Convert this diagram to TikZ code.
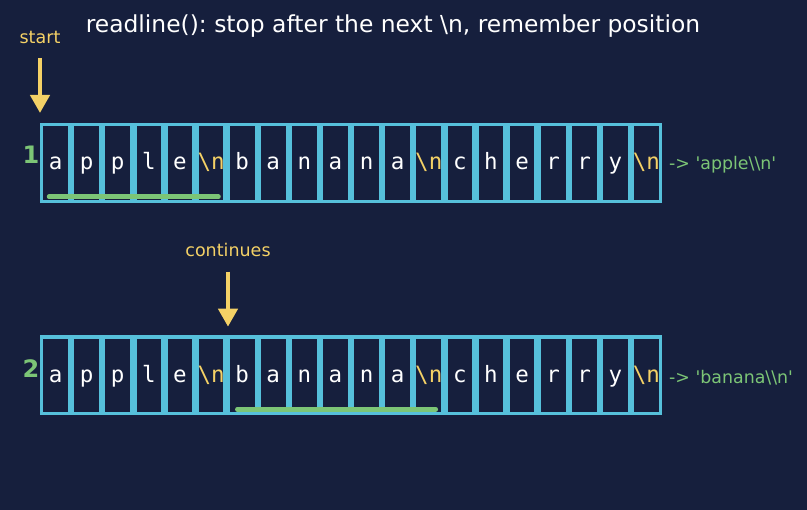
\documentclass[tikz,border=0pt]{standalone}
\usepackage{fontspec}
\setmainfont{DejaVu Sans}
\newfontfamily\monof{DejaVu Sans Mono}
\usetikzlibrary{arrows.meta}
\frenchspacing
\definecolor{bg}{HTML}{161F3D}
\definecolor{cellblue}{HTML}{56C0DB}
\definecolor{ylw}{HTML}{F4D166}
\definecolor{grn}{HTML}{7CC576}
\newcommand\nlx{\textcolor{ylw}{\textbackslash n}}
\tikzset{
  cell/.style={draw=cellblue, fill=bg, line width=3.2pt, minimum width=27.9pt, minimum height=76.8pt, inner sep=0pt, text height=16pt, text depth=2pt, text=white, font=\monof\fontsize{22.5}{26}\selectfont},
  rowlbl/.style={text=grn, font=\bfseries\fontsize{24}{28}\selectfont, inner sep=0pt, anchor=base east},
  res/.style={text=grn, font=\fontsize{17.4}{20}\selectfont, anchor=base west, inner sep=0pt},
  ptr/.style={text=ylw, font=\fontsize{17.5}{20}\selectfont, inner sep=0pt, anchor=base},
  ptrarrow/.style={draw=ylw, line width=4.3pt, -{Triangle[length=18pt,width=19pt]}},
  uline/.style={draw=grn, line width=4.5pt, line cap=round}
}
\begin{document}
\begin{tikzpicture}[x=1pt,y=1pt]
\fill[bg] (0,0) rectangle (807,510);
\useasboundingbox (0,0) rectangle (807,510);
\node[text=white, font=\fontsize{23.4}{27}\selectfont, inner sep=0pt, anchor=base] (title) at (393,477.7) {readline(): stop after the next \textbackslash n, remember position};
% rows
\foreach \c [count=\i from 0] in {a,p,p,l,e,\nlx,b,a,n,a,n,a,\nlx,c,h,e,r,r,y,\nlx}{
  \pgfmathsetmacro{\xx}{40+31.1*\i+15.55}
  \node[cell] (a\i) at (\xx,347) {\c};
  \node[cell] (b\i) at (\xx,134.5) {\c};
}
\node[rowlbl] (l1) at (39.5,346) {1};
\node[rowlbl] (l2) at (39.5,132.7) {2};
\node[res] (r1) at (669,340.7) {-> \textquotesingle apple\textbackslash\textbackslash n\textquotesingle};
\node[res] (r2) at (669,126.7) {-> \textquotesingle banana\textbackslash\textbackslash n\textquotesingle};
% pointers
\node[ptr] (start) at (40,466) {start};
\coordinate (s1) at (40,452);
\coordinate (s2) at (40,397);
\draw[ptrarrow] (s1) -- (s2);
\node[ptr] (cont) at (228,253.3) {continues};
\coordinate (c1) at (228,238.3);
\coordinate (c2) at (228,183.3);
\draw[ptrarrow] (c1) -- (c2);
% underlines
\coordinate (u1a) at (49,313.3);
\coordinate (u1b) at (218.5,313.3);
\draw[uline] (u1a) -- (u1b);
\coordinate (u2a) at (237.3,100.7);
\coordinate (u2b) at (435.8,100.7);
\draw[uline] (u2a) -- (u2b);
\end{tikzpicture}
\end{document}
